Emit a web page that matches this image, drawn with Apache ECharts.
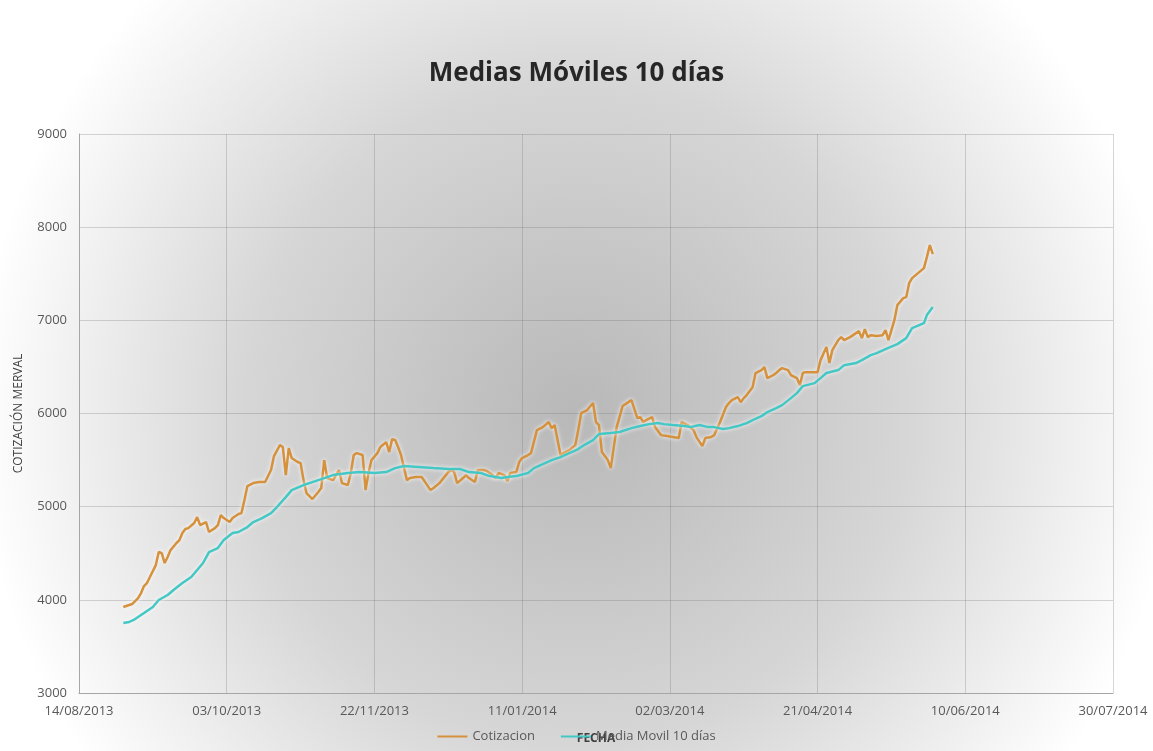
<!DOCTYPE html>
<html>
<head>
<meta charset="utf-8">
<script src="https://cdn.jsdelivr.net/npm/echarts@6/dist/echarts.min.js"></script>
<style>
  html, body { margin: 0; padding: 0; }
  #chart { width: 1153px; height: 751px; }
</style>
</head>
<body>
<div id="chart"></div>
<script>
// Cotizacion (dates + values)
var cotFechas = [
  '2013-08-29','2013-09-01','2013-09-03','2013-09-04','2013-09-05','2013-09-06','2013-09-07','2013-09-09','2013-09-10','2013-09-11',
  '2013-09-12','2013-09-13','2013-09-14','2013-09-16','2013-09-17','2013-09-18','2013-09-19','2013-09-20','2013-09-22','2013-09-23',
  '2013-09-24','2013-09-26','2013-09-27','2013-09-29','2013-09-30','2013-10-01','2013-10-02','2013-10-04','2013-10-05','2013-10-07',
  '2013-10-08','2013-10-09','2013-10-10','2013-10-12','2013-10-14','2013-10-16','2013-10-18','2013-10-19','2013-10-21','2013-10-22',
  '2013-10-23','2013-10-24','2013-10-25','2013-10-27','2013-10-28','2013-10-29','2013-10-30','2013-11-01','2013-11-03','2013-11-04',
  '2013-11-05','2013-11-06','2013-11-08','2013-11-09','2013-11-10','2013-11-11','2013-11-13','2013-11-14','2013-11-15','2013-11-16',
  '2013-11-18','2013-11-19','2013-11-20','2013-11-21','2013-11-23','2013-11-24','2013-11-26','2013-11-27','2013-11-28','2013-11-29',
  '2013-11-30','2013-12-01','2013-12-03','2013-12-04','2013-12-06','2013-12-08','2013-12-11','2013-12-12','2013-12-14','2013-12-17',
  '2013-12-18','2013-12-19','2013-12-20','2013-12-22','2013-12-23','2013-12-24','2013-12-26','2013-12-27','2013-12-29','2013-12-30',
  '2014-01-01','2014-01-02','2014-01-03','2014-01-05','2014-01-06','2014-01-07','2014-01-09','2014-01-10','2014-01-11','2014-01-13',
  '2014-01-14','2014-01-16','2014-01-18','2014-01-20','2014-01-21','2014-01-22','2014-01-24','2014-01-25','2014-01-27','2014-01-29',
  '2014-01-30','2014-01-31','2014-02-02','2014-02-04','2014-02-05','2014-02-06','2014-02-07','2014-02-09','2014-02-10','2014-02-12',
  '2014-02-14','2014-02-16','2014-02-17','2014-02-19','2014-02-20','2014-02-21','2014-02-22','2014-02-24','2014-02-25','2014-02-27',
  '2014-03-01','2014-03-03','2014-03-05','2014-03-06','2014-03-08','2014-03-10','2014-03-11','2014-03-13','2014-03-14','2014-03-16',
  '2014-03-17','2014-03-19','2014-03-21','2014-03-22','2014-03-23','2014-03-25','2014-03-26','2014-03-27','2014-03-28','2014-03-30',
  '2014-03-31','2014-04-02','2014-04-03','2014-04-04','2014-04-06','2014-04-07','2014-04-08','2014-04-09','2014-04-11','2014-04-12',
  '2014-04-14','2014-04-15','2014-04-16','2014-04-17','2014-04-19','2014-04-21','2014-04-22','2014-04-24','2014-04-25','2014-04-26',
  '2014-04-28','2014-04-29','2014-04-30','2014-05-02','2014-05-04','2014-05-05','2014-05-06','2014-05-07','2014-05-08','2014-05-09',
  '2014-05-11','2014-05-13','2014-05-14','2014-05-15','2014-05-17','2014-05-18','2014-05-20','2014-05-21','2014-05-22','2014-05-23',
  '2014-05-25','2014-05-27','2014-05-28','2014-05-29','2014-05-30'
];
var cotValores = [
  3923,3955,4019,4073,4148,4180,4245,4373,4513,4502,
  4395,4459,4534,4610,4642,4717,4760,4770,4824,4888,
  4803,4835,4728,4770,4803,4910,4878,4835,4878,4921,
  4931,5071,5221,5253,5264,5264,5393,5543,5661,5640,
  5339,5629,5522,5479,5468,5285,5146,5082,5157,5200,
  5500,5307,5285,5339,5393,5253,5232,5361,5554,5575,
  5554,5178,5361,5500,5575,5640,5693,5586,5725,5715,
  5640,5554,5285,5307,5318,5318,5178,5200,5253,5371,
  5393,5371,5253,5307,5339,5307,5264,5393,5393,5382,
  5339,5307,5361,5339,5275,5361,5371,5479,5522,5554,
  5575,5822,5854,5908,5843,5876,5554,5575,5607,5661,
  5822,6004,6037,6112,5908,5876,5586,5500,5414,5854,
  6080,6122,6144,5951,5961,5908,5929,5961,5854,5768,
  5758,5747,5736,5908,5876,5822,5747,5650,5736,5747,
  5768,5908,6069,6112,6144,6176,6122,6165,6198,6283,
  6434,6466,6498,6380,6412,6434,6466,6487,6466,6412,
  6380,6305,6434,6444,6444,6444,6573,6713,6541,6680,
  6788,6820,6788,6820,6863,6884,6809,6906,6820,6841,
  6831,6841,6895,6788,7002,7163,7238,7249,7399,7453,
  7507,7560,7678,7807,7710
];

// Media Movil 10 dias
var mmFechas = [
  '2013-08-29','2013-08-31','2013-09-02','2013-09-05','2013-09-08','2013-09-10','2013-09-13','2013-09-15','2013-09-18','2013-09-21',
  '2013-09-23','2013-09-25','2013-09-27','2013-09-30','2013-10-02','2013-10-05','2013-10-07','2013-10-10','2013-10-12','2013-10-15',
  '2013-10-18','2013-10-20','2013-10-23','2013-10-25','2013-10-29','2013-11-01','2013-11-05','2013-11-08','2013-11-13','2013-11-17',
  '2013-11-22','2013-11-26','2013-11-29','2013-12-02','2013-12-07','2013-12-12','2013-12-17','2013-12-21','2013-12-24','2013-12-28',
  '2013-12-31','2014-01-04','2014-01-06','2014-01-09','2014-01-13','2014-01-15','2014-01-18','2014-01-21','2014-01-24','2014-01-27',
  '2014-01-30','2014-02-01','2014-02-04','2014-02-06','2014-02-10','2014-02-13','2014-02-17','2014-02-20','2014-02-23','2014-02-26',
  '2014-02-28','2014-03-03','2014-03-07','2014-03-09','2014-03-12','2014-03-15','2014-03-17','2014-03-20','2014-03-22','2014-03-25',
  '2014-03-28','2014-03-30','2014-04-02','2014-04-04','2014-04-07','2014-04-09','2014-04-12','2014-04-14','2014-04-16','2014-04-20',
  '2014-04-22','2014-04-24','2014-04-28','2014-04-30','2014-05-04','2014-05-06','2014-05-09','2014-05-11','2014-05-14','2014-05-18',
  '2014-05-21','2014-05-23','2014-05-27','2014-05-28','2014-05-30'
];
var mmValores = [
  3751,3762,3794,3858,3923,3998,4052,4105,4180,4245,
  4320,4395,4513,4556,4642,4717,4728,4781,4835,4878,
  4931,4996,5103,5178,5232,5264,5307,5339,5361,5371,
  5361,5371,5414,5436,5425,5414,5404,5404,5371,5361,
  5328,5307,5318,5328,5361,5414,5457,5500,5532,5575,
  5618,5661,5715,5779,5790,5801,5843,5865,5886,5897,
  5886,5876,5865,5854,5876,5854,5854,5833,5843,5865,
  5897,5929,5972,6015,6058,6090,6165,6219,6294,6326,
  6380,6434,6466,6519,6541,6573,6627,6648,6691,6745,
  6809,6916,6970,7056,7142
];

var yTicks = [3000, 4000, 5000, 6000, 7000, 8000, 9000];

var DIA = 86400000;
var base = Date.parse('2013-08-14');

function pares (fechas, valores) {
  var out = [];
  for (var i = 0; i < fechas.length; i++) {
    out.push([(Date.parse(fechas[i]) - base) / DIA, valores[i]]);
  }
  return out;
}

function dosDig (n) { return (n < 10 ? '0' : '') + n; }

var chart = echarts.init(document.getElementById('chart'));
var font = '"Open Sans", "Liberation Sans", sans-serif';

chart.setOption({
  animation: false,
  backgroundColor: {
    type: 'radial', x: 0.5, y: 0.55, r: 0.8,
    colorStops: [
      { offset: 0, color: '#b8b8b8' },
      { offset: 0.55, color: '#d6d6d6' },
      { offset: 1, color: '#ffffff' }
    ]
  },
  title: {
    text: 'Medias Móviles 10 días',
    left: 'center',
    top: 56,
    textStyle: { fontFamily: font, fontSize: 26, fontWeight: 'bold', color: '#262626' }
  },
  legend: {
    left: 'center',
    top: 725,
    icon: 'rect',
    itemWidth: 30,
    itemHeight: 2,
    itemGap: 26,
    textStyle: { fontFamily: font, fontSize: 13, color: '#595959' },
    data: ['Cotizacion', 'Media Movil 10 días']
  },
  grid: { left: 79, right: 40, top: 134, bottom: 58 },
  xAxis: {
    type: 'value',
    min: 0,
    max: 350,
    interval: 50,
    name: 'FECHA',
    nameLocation: 'middle',
    nameGap: 40,
    nameTextStyle: { fontFamily: font, fontSize: 12, fontWeight: 'bold', color: '#404040' },
    axisLine: { lineStyle: { color: '#a6a6a6' } },
    axisTick: { show: false },
    axisLabel: {
      margin: 12,
      fontFamily: font, fontSize: 13, color: '#595959',
      formatter: function (v) {
        var d = new Date(base + v * DIA);
        return dosDig(d.getUTCDate()) + '/' + dosDig(d.getUTCMonth() + 1) + '/' + d.getUTCFullYear();
      }
    },
    splitLine: { show: true, lineStyle: { color: 'rgba(110,110,110,0.28)' } }
  },
  yAxis: {
    type: 'value',
    min: yTicks[0],
    max: yTicks[yTicks.length - 1],
    interval: 1000,
    name: 'COTIZACIÓN MERVAL',
    nameLocation: 'middle',
    nameGap: 54,
    nameTextStyle: { fontFamily: font, fontSize: 12, color: '#404040' },
    axisLine: { show: true, lineStyle: { color: '#a6a6a6' } },
    axisTick: { show: false },
    axisLabel: {
      margin: 12, fontFamily: font, fontSize: 13, color: '#595959',
      formatter: function (v) { return String(v); }
    },
    splitLine: { show: true, lineStyle: { color: 'rgba(110,110,110,0.28)' } }
  },
  series: [
    {
      name: 'Cotizacion',
      type: 'line',
      showSymbol: false,
      symbol: 'none',
      data: pares(cotFechas, cotValores),
      itemStyle: { color: '#d6913c' },
      lineStyle: { width: 2.5, color: '#d6913c', shadowColor: 'rgba(255,255,255,0.9)', shadowBlur: 4 }
    },
    {
      name: 'Media Movil 10 días',
      type: 'line',
      showSymbol: false,
      symbol: 'none',
      data: pares(mmFechas, mmValores),
      itemStyle: { color: '#44c8c6' },
      lineStyle: { width: 2.5, color: '#44c8c6', shadowColor: 'rgba(255,255,255,0.9)', shadowBlur: 4 }
    }
  ]
});
</script>
</body>
</html>
